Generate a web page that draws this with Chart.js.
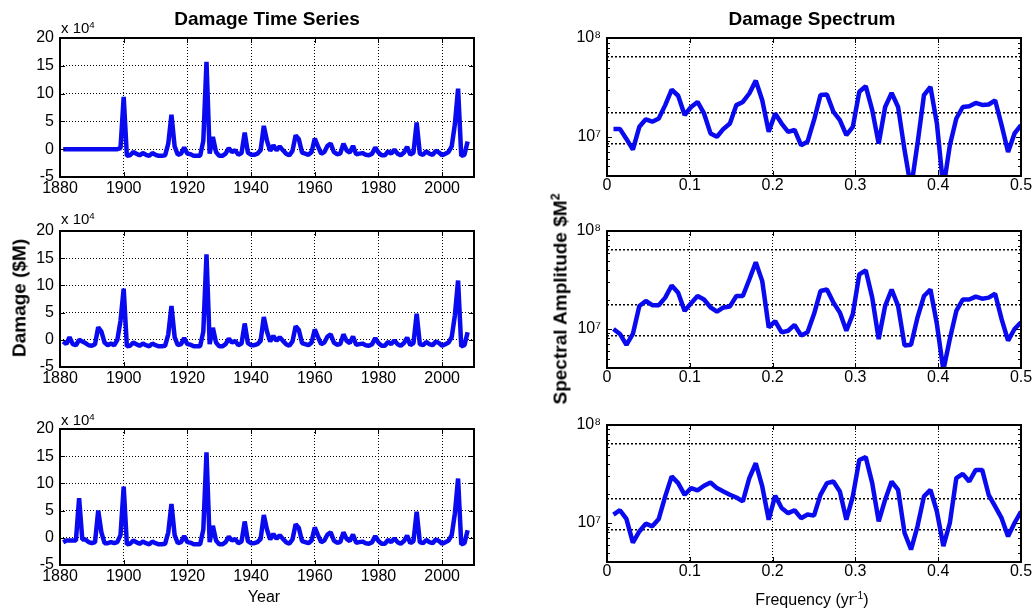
<!DOCTYPE html>
<html>
<head>
<meta charset="utf-8">
<title>Damage Time Series / Damage Spectrum</title>
<script src="https://cdn.jsdelivr.net/npm/chart.js@4.4.1/dist/chart.umd.min.js"></script>
<style>
  body { margin: 0; background: #fff; }
  #fig { position: relative; width: 1034px; height: 614px; overflow: hidden;
         font-family: 'Liberation Sans', Arial, 'DejaVu Sans', sans-serif; color: #000; }
  canvas { position: absolute; }
  .lbl { position: absolute; white-space: nowrap; line-height: 1; transform: translate(-50%, -50%); }
  .title { font-weight: bold; font-size: 19px; }
  .ylab { font-weight: bold; font-size: 19px; transform: translate(-50%, -50%) rotate(-90deg); }
  .xlab { font-size: 16px; }
  .mult { position: absolute; font-size: 15px; line-height: 1; white-space: nowrap; }
  sup { font-size: 65%; vertical-align: 0; position: relative; top: -0.55em; }
</style>
</head>
<body>
<div id="fig">
  <canvas id="ts1"></canvas>
  <canvas id="ts2"></canvas>
  <canvas id="ts3"></canvas>
  <canvas id="sp1"></canvas>
  <canvas id="sp2"></canvas>
  <canvas id="sp3"></canvas>

  <div class="lbl title" style="left:267px;top:18px">Damage Time Series</div>
  <div class="lbl title" style="left:812px;top:18px">Damage Spectrum</div>
  <div class="mult" style="left:61px;top:20px">x 10<sup>4</sup></div>
  <div class="mult" style="left:61px;top:211px">x 10<sup>4</sup></div>
  <div class="mult" style="left:61px;top:412px">x 10<sup>4</sup></div>
  <div class="lbl ylab" style="left:19px;top:298px">Damage ($M)</div>
  <div class="lbl ylab" style="left:560px;top:299px">Spectral Amplitude $M<sup>2</sup></div>
  <div class="lbl xlab" style="left:264px;top:597px">Year</div>
  <div class="lbl xlab" style="left:812px;top:600px">Frequency (yr<sup>-1</sup>)</div>
</div>

<script>
// ---- data (damage in units of 10^4 $M) ----
const firstYear = 1881

// 1881-1899, different for each of the three records
const early1 = [0, 0, 0, 0, 0, 0, 0, 0, 0, 0, 0, 0, 0, 0, 0, 0, 0, 0, 0.2]
const early2 = [-0.3, -0.8, 0.5, -0.8, -1.0, 0.0, -0.3, -0.6, -1.0, -1.1,
                -0.8, 2.3, 1.5, -0.5, -1.0, -0.7, -1.0, 0.0, 3.5]
const early3 = [-0.8, -0.5, -0.5, -0.5, -0.5, 7.3, -0.3, -0.3, -0.8, -1.0,
                -0.8, 5.0, 1.0, -1.0, -1.0, -0.8, -1.0, -0.8, 0.5]

// 1900-2008, common to the three records
const since1900 = [
  9.4, -1.2, -1.1, -0.5, -0.8, -1.1, -0.7, -1.0, -1.2, -0.7,
  -1.0, -1.2, -1.2, -1.1, 1.0, 6.2, 0.5, -1.0, -0.8, 0.3,
  -0.8, -0.9, -1.2, -1.2, -1.2, 1.5, 15.7, -0.8, 2.2, -0.5,
  -1.2, -1.2, -0.8, 0.2, -0.5, -0.2, -1.0, -0.7, 3.0, -0.6,
  -1.0, -1.0, -0.8, -0.2, 4.2, 1.5, -0.3, 0.7, -0.2, 0.5,
  -0.2, -0.8, -1.1, -0.3, 2.5, 1.8, -0.6, -0.8, -1.0, -0.5,
  1.9, 0.5, -0.8, -0.5, 0.6, 1.0, -0.5, -0.9, -0.8, 1.0,
  -0.2, -0.6, 0.6, -0.9, -0.8, -0.7, -1.0, -1.1, -0.8, 0.3,
  -0.6, -1.1, -1.1, -0.4, -0.8, -0.1, -0.8, -1.1, -0.6, 0.4,
  -1.0, -0.6, 4.8, -0.8, -1.0, -0.4, -0.8, -1.0, -0.3, -0.6,
  -1.1, -0.8, -0.5, 0.5, 4.5, 10.9, -1.2, -1.0, 1.4
]

const damage1 = early1.concat(since1900)
const damage2 = early2.concat(since1900)
const damage3 = early3.concat(since1900)
const years = damage1.map((_, i) => firstYear + i)

// spectral amplitude ($M^2) at k/128 yr^-1, k = 1..64
const spectrum1 = [
  1.2e7, 1.2e7, 9.5e6, 7.4e6, 1.26e7, 1.5e7, 1.42e7, 1.53e7, 2.09e7, 3.0e7,
  2.6e7, 1.66e7, 2.0e7, 2.25e7, 1.72e7, 1.08e7, 1.0e7, 1.2e7, 1.36e7, 2.09e7,
  2.25e7, 2.74e7, 3.7e7, 2.34e7, 1.12e7, 1.72e7, 1.36e7, 1.12e7, 1.17e7, 8.2e6,
  8.9e6, 1.47e7, 2.64e7, 2.68e7, 1.79e7, 1.47e7, 1.04e7, 1.26e7, 2.85e7, 3.25e7,
  1.86e7, 8.5e6, 2.0e7, 2.78e7, 2.0e7, 7.3e6, 3.0e6, 8.5e6, 2.64e7, 3.2e7,
  1.36e7, 3.0e6, 8.2e6, 1.53e7, 2.0e7, 2.04e7, 2.2e7, 2.1e7, 2.12e7, 2.34e7,
  1.31e7, 7.0e6, 1.08e7, 1.31e7
]
const spectrum2 = [
  1.0e7, 8.9e6, 6.9e6, 8.9e6, 1.72e7, 1.93e7, 1.75e7, 1.75e7, 2.09e7, 2.78e7,
  2.35e7, 1.53e7, 1.83e7, 2.17e7, 2.0e7, 1.66e7, 1.5e7, 1.66e7, 1.7e7, 2.17e7,
  2.17e7, 3.2e7, 4.8e7, 3.08e7, 1.04e7, 1.2e7, 9.25e6, 9.6e6, 1.1e7, 8.6e6,
  9.25e6, 1.42e7, 2.44e7, 2.53e7, 1.86e7, 1.47e7, 9.6e6, 1.42e7, 3.6e7, 3.97e7,
  2.09e7, 7.9e6, 1.72e7, 2.53e7, 1.72e7, 6.8e6, 6.9e6, 1.31e7, 2.17e7, 2.53e7,
  1.12e7, 3.8e6, 7.9e6, 1.53e7, 2.0e7, 2.0e7, 2.14e7, 2.04e7, 2.09e7, 2.29e7,
  1.26e7, 7.6e6, 1.0e7, 1.17e7
]
const spectrum3 = [
  1.22e7, 1.35e7, 1.1e7, 6.3e6, 8.2e6, 9.85e6, 9.25e6, 1.1e7, 1.87e7, 2.99e7,
  2.55e7, 1.94e7, 2.27e7, 2.15e7, 2.4e7, 2.59e7, 2.27e7, 2.1e7, 1.94e7, 1.82e7,
  1.66e7, 2.87e7, 4.07e7, 2.36e7, 1.08e7, 1.9e7, 1.42e7, 1.26e7, 1.35e7, 1.12e7,
  1.22e7, 1.19e7, 1.94e7, 2.55e7, 2.65e7, 2.1e7, 1.08e7, 1.87e7, 4.4e7, 4.7e7,
  2.55e7, 1.04e7, 1.73e7, 2.65e7, 2.18e7, 7.9e6, 5.36e6, 9.25e6, 1.87e7, 2.18e7,
  1.31e7, 5.8e6, 1.0e7, 2.87e7, 3.17e7, 2.65e7, 3.48e7, 3.48e7, 1.94e7, 1.48e7,
  1.12e7, 7.3e6, 1.0e7, 1.31e7
]
const freqs = spectrum1.map((_, i) => (i + 1) / 128)

// tick labels
const yearTicks = [1880, 1900, 1920, 1940, 1960, 1980, 2000]
const damageTicks = [-5, 0, 5, 10, 15, 20]
const freqTicks = [0, 0.1, 0.2, 0.3, 0.4, 0.5]
const ampLabels = { 1e7: '10\u2077', 1e8: '10\u2078' }
const ampGrid = [8.5e6, 1.75e7, 6.4e7]
const ampMinor = [5e6, 6e6, 7e6, 8e6, 9e6, 2e7, 3e7, 4e7, 5e7, 6e7, 7e7, 8e7, 9e7]

// ---- layout ----
const PAD_T = 12, PAD_R = 14, AXIS_W = 60, AXIS_H = 30
const panels = {
  ts1: [60, 38, 474, 177], ts2: [60, 231, 474, 367], ts3: [60, 429, 474, 565],
  sp1: [607, 38, 1021, 176], sp2: [607, 231, 1021, 368], sp3: [607, 425, 1021, 562]
}

Chart.defaults.font.family = "'Liberation Sans', Arial, 'DejaVu Sans', sans-serif"
Chart.defaults.font.size = 16
Chart.defaults.color = '#000'

function placeCanvas(id) {
  const [l, t, r, b] = panels[id]
  const c = document.getElementById(id)
  const w = r - l + AXIS_W + PAD_R
  const h = b - t + PAD_T + AXIS_H
  c.width = w
  c.height = h
  c.style.left = (l - AXIS_W) + 'px'
  c.style.top = (t - PAD_T) + 'px'
  c.style.width = w + 'px'
  c.style.height = h + 'px'
  return c
}

// matlab style box with inward ticks
const matlabAxes = {
  id: 'matlabAxes',
  afterDraw(chart, args, opts) {
    const { ctx, chartArea: a, scales: { x, y } } = chart
    const len = 5
    ctx.save()
    ctx.strokeStyle = '#000'
    ctx.lineWidth = 1
    ctx.beginPath()
    opts.xMajor.forEach(v => {
      const px = Math.round(x.getPixelForValue(v)) + 0.5
      ctx.moveTo(px, a.bottom); ctx.lineTo(px, a.bottom - len)
      ctx.moveTo(px, a.top); ctx.lineTo(px, a.top + len)
    })
    opts.yMajor.forEach(v => {
      const py = Math.round(y.getPixelForValue(v)) + 0.5
      ctx.moveTo(a.left, py); ctx.lineTo(a.left + len, py)
      ctx.moveTo(a.right, py); ctx.lineTo(a.right - len, py)
    })
    ;(opts.yMinor || []).forEach(v => {
      const py = Math.round(y.getPixelForValue(v)) + 0.5
      ctx.moveTo(a.left, py); ctx.lineTo(a.left + 3, py)
      ctx.moveTo(a.right, py); ctx.lineTo(a.right - 3, py)
    })
    ctx.stroke()
    ctx.lineWidth = 2
    ctx.strokeRect(a.left, a.top, a.right - a.left, a.bottom - a.top)
    ctx.restore()
  }
}

const lineStyle = {
  borderColor: '#0a0af0',
  borderWidth: 4.5,
  pointRadius: 0,
  tension: 0,
  borderJoinStyle: 'bevel',
  clip: 0
}

const gridDotted = { color: '#000', lineWidth: 1, drawTicks: false }

function fixX(s) { s.height = AXIS_H; s.paddingLeft = 0; s.paddingRight = 0 }
function fixY(s) { s.width = AXIS_W; s.paddingTop = 0; s.paddingBottom = 0 }

function timeSeriesChart(id, values) {
  return new Chart(placeCanvas(id), {
    type: 'line',
    data: { datasets: [Object.assign({ data: years.map((yr, i) => ({ x: yr, y: values[i] })) }, lineStyle)] },
    options: {
      responsive: false, animation: false, events: [],
      layout: { padding: { top: PAD_T, right: PAD_R, left: 0, bottom: 0 } },
      plugins: {
        legend: { display: false }, tooltip: { enabled: false },
        matlabAxes: { xMajor: yearTicks, yMajor: damageTicks }
      },
      scales: {
        x: {
          type: 'linear', min: 1880, max: 2010,
          afterBuildTicks: s => { s.ticks = yearTicks.map(v => ({ value: v })) },
          afterFit: fixX,
          grid: gridDotted, border: { display: false, dash: [1, 2] },
          ticks: { padding: 2, maxRotation: 0, autoSkip: false, callback: v => String(v) }
        },
        y: {
          type: 'linear', min: -5, max: 20,
          afterBuildTicks: s => { s.ticks = damageTicks.map(v => ({ value: v })) },
          afterFit: fixY,
          grid: gridDotted, border: { display: false, dash: [1, 2] },
          ticks: { padding: 6, autoSkip: false, callback: v => String(v) }
        }
      }
    },
    plugins: [matlabAxes]
  })
}

function spectrumChart(id, values) {
  const yTickVals = ampGrid.concat([1e7, 1e8]).sort((p, q) => p - q)
  return new Chart(placeCanvas(id), {
    type: 'line',
    data: { datasets: [Object.assign({ data: freqs.map((f, i) => ({ x: f, y: values[i] })) }, lineStyle)] },
    options: {
      responsive: false, animation: false, events: [],
      layout: { padding: { top: PAD_T, right: PAD_R, left: 0, bottom: 0 } },
      plugins: {
        legend: { display: false }, tooltip: { enabled: false },
        matlabAxes: { xMajor: freqTicks, yMajor: [1e7], yMinor: ampMinor }
      },
      scales: {
        x: {
          type: 'linear', min: 0, max: 0.5,
          afterBuildTicks: s => { s.ticks = freqTicks.map(v => ({ value: v })) },
          afterFit: fixX,
          grid: gridDotted, border: { display: false, dash: [1, 2] },
          ticks: { padding: 0, maxRotation: 0, autoSkip: false, callback: v => String(v) }
        },
        y: {
          type: 'logarithmic', min: 4e6, max: 1e8,
          afterBuildTicks: s => { s.ticks = yTickVals.map(v => ({ value: v })) },
          afterFit: fixY,
          grid: {
            drawTicks: false,
            lineWidth: 1.5,
            color: c => (ampLabels[c.tick && c.tick.value] ? 'rgba(0,0,0,0)' : '#000')
          },
          border: { display: false, dash: [2, 2] },
          ticks: { padding: 6, autoSkip: false, callback: v => ampLabels[v] || '' }
        }
      }
    },
    plugins: [matlabAxes]
  })
}

timeSeriesChart('ts1', damage1)
timeSeriesChart('ts2', damage2)
timeSeriesChart('ts3', damage3)
spectrumChart('sp1', spectrum1)
spectrumChart('sp2', spectrum2)
spectrumChart('sp3', spectrum3)
</script>
</body>
</html>
